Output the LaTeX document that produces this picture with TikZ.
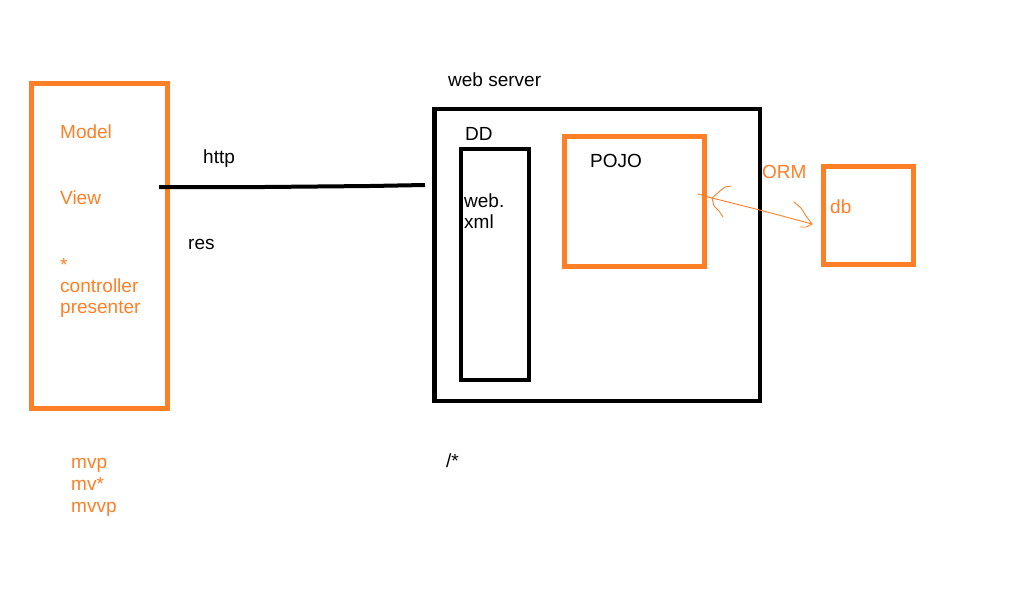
\documentclass[tikz,border=0pt]{standalone}
\usepackage{fontspec}
\setmainfont{Liberation Sans}
\definecolor{porange}{RGB}{255,127,39}
\begin{document}
\begin{tikzpicture}[x=1pt,y=-1pt,
  obox/.style={draw=porange,line width=5pt,inner sep=0pt},
  bbox/.style={draw=black,line width=4.5pt,inner sep=0pt},
  lbl/.style={anchor=base west,inner sep=0pt,font=\fontsize{19}{22}\selectfont},
  olbl/.style={lbl,text=porange},
  wire/.style={line width=4pt},
  ormline/.style={draw=porange,line width=0.9pt,line cap=round,line join=round}]
\useasboundingbox (0,0) rectangle (1018,611);
% boxes
\node[obox,minimum width=136pt,minimum height=324.5pt] (mvc) at (99,245.75) {};
\node[bbox,minimum width=325.5pt,minimum height=292pt] (server) at (597.25,255) {};
\node[bbox,minimum width=68pt,minimum height=231pt] (webxml) at (495,264.5) {};
\node[obox,minimum width=140pt,minimum height=130pt] (pojo) at (634,201) {};
\node[obox,minimum width=90pt,minimum height=98pt] (db) at (868,215) {};
% orange labels
\node[olbl] (model) at (60,138) {Model};
\node[olbl] (view) at (60,204) {View};
\node[olbl] (star) at (60,271) {*};
\node[olbl] (controller) at (60,292) {controller};
\node[olbl] (presenter) at (60,313) {presenter};
\node[olbl] (mvp) at (71,468) {mvp};
\node[olbl] (mvstar) at (71,490) {mv*};
\node[olbl] (mvvp) at (71,512) {mvvp};
\node[olbl] (orm) at (762,178) {ORM};
\node[olbl] (dbl) at (830,213) {db};
% black labels
\node[lbl] (http) at (203,163) {http};
\node[lbl] (res) at (188,249) {res};
\node[lbl] (ws) at (448,86) {web server};
\node[lbl] (dd) at (465,140) {DD};
\node[lbl] (web) at (464,207) {web.};
\node[lbl] (xml) at (464,228) {xml};
\node[lbl] (pojol) at (590,167) {POJO};
\node[lbl] (slash) at (446,467) {/*};
% http wire
\coordinate (wA) at (159,187);
\coordinate (wB) at (425,185);
\draw[wire] (wA) -- (264,187) -- (370,186) -- (wB);
% ORM arrow
\coordinate (ormA) at (698,194);
\coordinate (ormJ) at (712,198);
\coordinate (ormB) at (812,224);
\draw[ormline] (ormA) -- (ormJ) .. controls (760,210) .. (ormB);
\draw[ormline] (ormJ) -- (720,191) -- (725,187) -- (731,186);
\draw[ormline] (ormJ) -- (714,206) -- (719,211) -- (723,217);
\draw[ormline] (794,202) -- (801,208) -- (806,216) -- (ormB);
\draw[ormline] (ormB) -- (806,227) -- (800,227);
\end{tikzpicture}
\end{document}
